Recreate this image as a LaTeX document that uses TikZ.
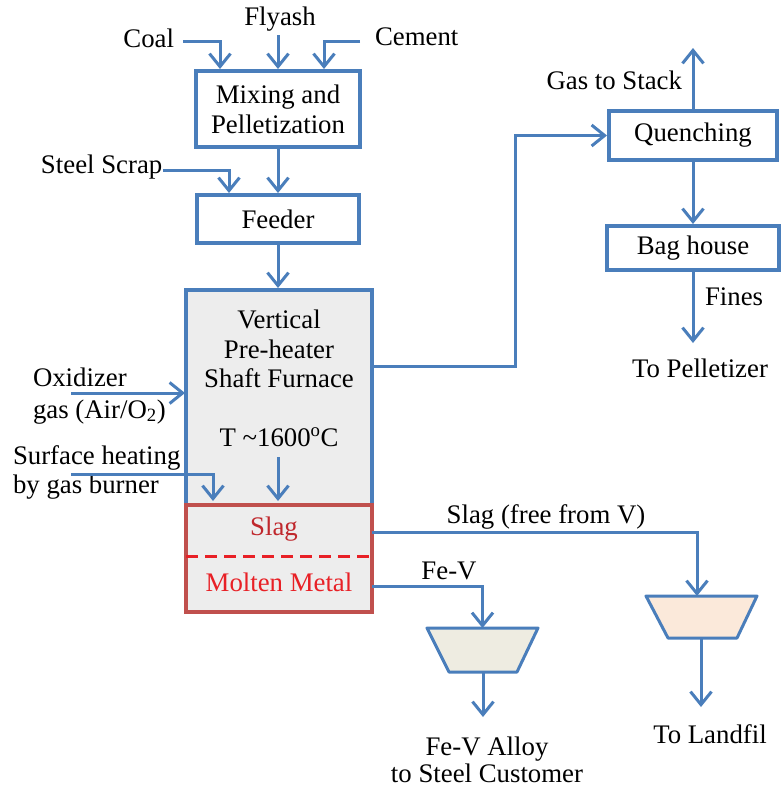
\documentclass[tikz,border=0pt]{standalone}
\usepackage{fontspec}
\setmainfont{Liberation Serif}
\usetikzlibrary{arrows.meta}

\definecolor{flow}{RGB}{74,126,187}
\definecolor{hearthline}{RGB}{192,80,77}
\definecolor{slagtext}{RGB}{192,40,45}
\definecolor{melt}{RGB}{232,32,38}
\definecolor{shaftfill}{RGB}{237,237,237}
\definecolor{alloyfill}{RGB}{238,236,225}
\definecolor{landfill}{RGB}{251,233,218}

\begin{document}
\begin{tikzpicture}[x=1pt,y=-1pt,
  every node/.style={font=\fontsize{26.8}{30}\selectfont, inner sep=0pt, outer sep=0pt},
  flowline/.style={draw=flow, line width=3pt},
  arr/.style={flowline, -{Straight Barb[length=13pt,width=21pt]}},
  unit/.style={draw=flow, line width=3.2pt, fill=white, align=center},
  lbl/.style={anchor=base},
  ladle/.style={draw=flow, line width=3pt, line join=round}
]
\useasboundingbox (0,0) rectangle (781,788);

% process units
\node[unit, minimum width=164pt, minimum height=76pt] (mix) at (278,109) {Mixing and\\Pelletization};
\node[unit, minimum width=162pt, minimum height=48pt] (feed) at (278,219) {Feeder};
\node[unit, fill=shaftfill, minimum width=186pt, minimum height=215pt] (furnace) at (279,397.5) {};
\node[draw=hearthline, line width=3.2pt, fill=shaftfill, minimum width=186pt, minimum height=107pt] (hearth) at (279,558.5) {};
\draw[draw=melt, line width=3pt, dash pattern=on 12pt off 7pt] (hearth.west |- 0,556) -- (hearth.east |- 0,556);
\node[unit, minimum width=168pt, minimum height=49pt] (quench) at (693,135.5) {Quenching};
\node[unit, minimum width=172pt, minimum height=44pt] (bag) at (693,248) {Bag house};

% furnace texts
\node[lbl] (tv) at (279,328) {Vertical};
\node[lbl] (tp) at (279,358) {Pre-heater};
\node[lbl] (ts) at (279,387) {Shaft Furnace};
\node[lbl] (temp) at (279,446) {T \textasciitilde1600\textsuperscript{o}C};
\node[lbl, text=slagtext] (slag) at (274,535) {Slag};
\node[lbl, text=melt] (metal) at (279,591) {Molten Metal};

% feed labels
\node[lbl, anchor=base east] (coal) at (174,47) {Coal};
\node[lbl] (flyash) at (280,25) {Flyash};
\node[lbl, anchor=base west] (cement) at (375,45) {Cement};
\node[lbl, anchor=base west] (scrap) at (41,173) {Steel Scrap};
\node[lbl, anchor=base west] (ox1) at (33,386) {Oxidizer};
\node[lbl, anchor=base west] (ox2) at (33,418) {gas (Air/O\textsubscript{2})};
\node[lbl, anchor=base west] (sh1) at (13,464) {Surface heating};
\node[lbl, anchor=base west] (sh2) at (13,493) {by gas burner};

% product labels
\node[lbl, anchor=base east] (stack) at (682,89) {Gas to Stack};
\node[lbl, anchor=base west] (fines) at (705,305) {Fines};
\node[lbl] (pellet) at (700,377) {To Pelletizer};
\node[lbl] (slagfree) at (546,523) {Slag (free from V)};
\node[lbl] (fev) at (449,579) {Fe-V};
\node[lbl] (alloy1) at (487,755) {Fe-V Alloy};
\node[lbl] (alloy2) at (487,782) {to Steel Customer};
\node[lbl] (landfil) at (710,743) {To Landfil};

% ladles
\coordinate (alloyTop) at (482.5,628);
\coordinate (alloyBot) at (483,672);
\filldraw[ladle, fill=alloyfill] (427,628) -- (538,628) -- (517,672) -- (449,672) -- cycle;
\coordinate (landTop) at (697,596);
\coordinate (landBot) at (701,638);
\filldraw[ladle, fill=landfill] (646,596) -- (757,596) -- (737,638) -- (668,638) -- cycle;

% free ends of feed lines
\coordinate (coalIn) at (183,41);
\coordinate (flyIn) at (278,35);
\coordinate (cemIn) at (360,41);
\coordinate (scrapIn) at (163,170);
\coordinate (oxIn) at (71,393);
\coordinate (burnIn) at (71,474);
\coordinate (burnTip) at (213,501);
\coordinate (tempFrom) at (278,457);
\coordinate (tempTip) at (278,501);

% connectors
\draw[arr] (coalIn) -| ([xshift=-58pt,yshift=2pt]mix.north);
\draw[arr] (flyIn) -- ([yshift=2pt]mix.north);
\draw[arr] (cemIn) -| ([xshift=46pt,yshift=2pt]mix.north);
\draw[arr] (mix.south) -- ([yshift=2pt]feed.north);
\draw[arr] (scrapIn) -| ([xshift=-49pt,yshift=2pt]feed.north);
\draw[arr] (feed.south) -- ([yshift=2pt]feed.south |- furnace.north);
\draw[arr] (oxIn) -- ([xshift=-1pt]oxIn -| furnace.west);
\draw[arr] (burnIn) -| (burnTip);
\draw[arr] (tempFrom) -- (tempTip);
\draw[arr] ([yshift=31.5pt]furnace.east) -- ++(143,0) |- ([xshift=-2pt]quench.west);
\draw[arr] (quench.north) -- ++(0,-63);
\draw[arr] (quench.south) -- ([yshift=2pt]bag.north);
\draw[arr] (bag.south) -- ++(0,73);
\draw[arr] ([yshift=26.5pt]hearth.east) -| (landTop);
\draw[arr] ([yshift=-27.5pt]hearth.east) -| (alloyTop);
\draw[arr] (alloyBot) -- ++(0,45);
\draw[arr] (landBot) -- ++(0,69);
\end{tikzpicture}
\end{document}
